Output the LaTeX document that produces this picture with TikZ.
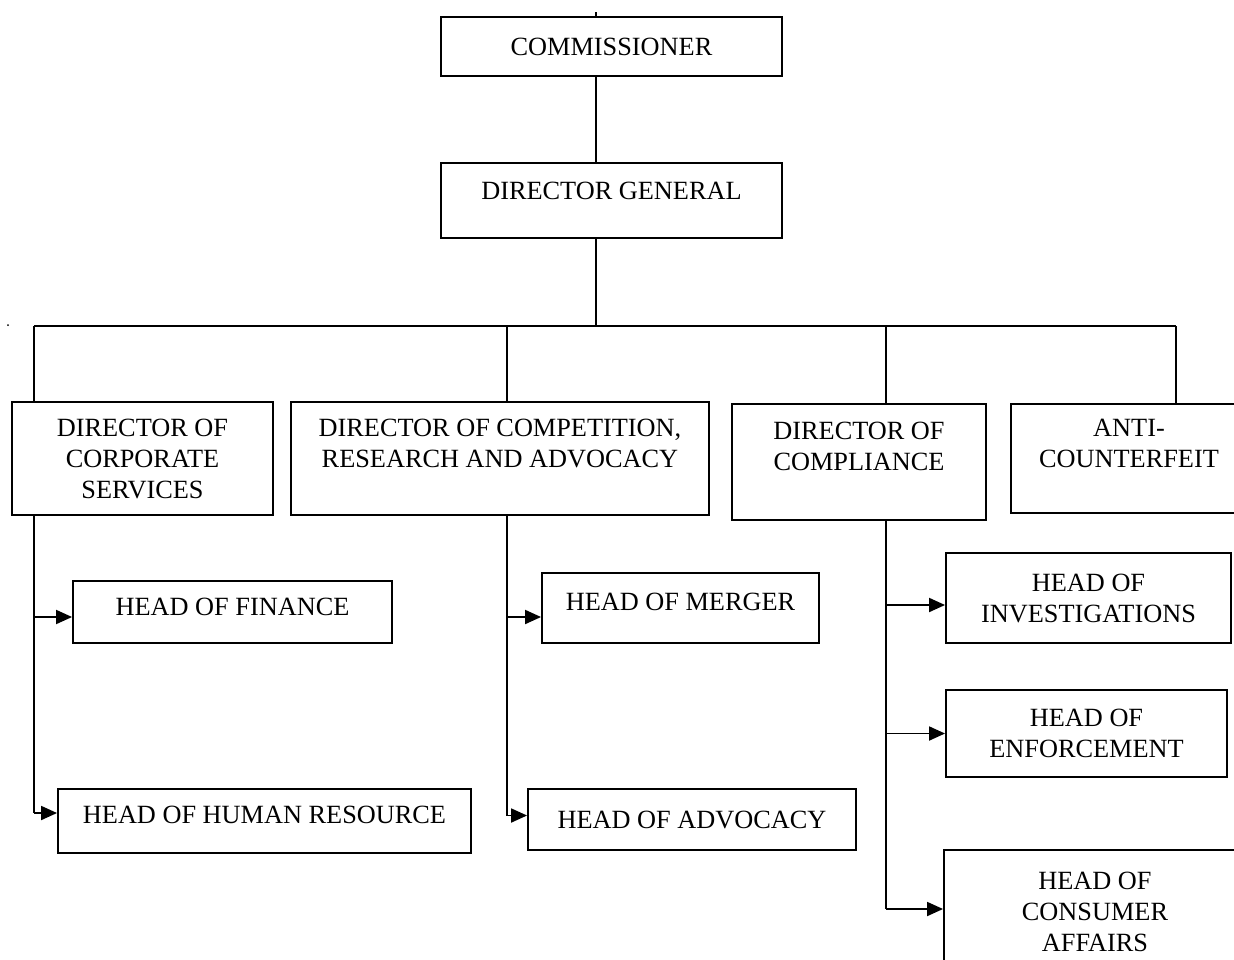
\documentclass[tikz,border=0pt]{standalone}
\usepackage{fontspec}
\setmainfont{Liberation Serif}
\usetikzlibrary{arrows.meta}

\begin{document}
\begin{tikzpicture}[
			x=1pt,y=-1pt,
			orgbox/.style={
				draw=black,
				line width=1.9pt,
				fill=white,
				align=center,
				inner sep=2pt,
				font=\fontsize{26.3pt}{31pt}\selectfont
			},
			orgline/.style={
				draw=black,
				line width=1.9pt
			},
			orgarrow/.style={
				-{Triangle[length=16pt,width=14pt]},
				draw=black,
				line width=1.9pt
			}
			]
			
			\path[fill=white,use as bounding box] (0,0) rectangle (1234,959);
			\clip (0,0) rectangle (1234,959);
			
			\node[orgbox,minimum width=341pt,minimum height=59pt] (comm) at (611.5,46.5) {COMMISSIONER};
			
			\node[orgbox,minimum width=341pt,minimum height=75pt] (dg) at (611.5,200.5) {DIRECTOR GENERAL\\[-12pt]\mbox{}};
			
			\node[orgbox,minimum width=261pt,minimum height=113pt] (corp) at (142.5,458.5) {DIRECTOR OF\\CORPORATE\\SERVICES};
			
			\node[orgbox,minimum width=418pt,minimum height=113pt] (comp) at (500,458.5) {DIRECTOR OF COMPETITION,\\RESEARCH AND ADVOCACY\\\mbox{}};
			
			\node[orgbox,minimum width=254pt,minimum height=116pt] (compl) at (859,462) {DIRECTOR OF\\COMPLIANCE\\\mbox{}};
			
			\node[orgbox,minimum width=236pt,minimum height=109pt] (anti) at (1129,458.5) {ANTI-\\COUNTERFEIT\\\mbox{}};
			
			\node[orgbox,minimum width=319pt,minimum height=62pt] (fin) at (232.5,612) {HEAD OF FINANCE\\[-21pt]\mbox{}};
			
			\node[orgbox,minimum width=413pt,minimum height=64pt] (hr) at (264.5,821) {HEAD OF HUMAN RESOURCE\\[-19pt]\mbox{}};
			
			\node[orgbox,minimum width=277pt,minimum height=70pt] (merger) at (680.5,608) {HEAD OF MERGER\\[-19pt]\mbox{}};
			
			\node[orgbox,minimum width=328pt,minimum height=61pt] (adv) at (692,819.5) {HEAD OF ADVOCACY};
			
			\node[orgbox,minimum width=285pt,minimum height=90pt] (inv) at (1088.5,598) {HEAD OF\\INVESTIGATIONS};
			
			\node[orgbox,minimum width=281pt,minimum height=87pt] (enf) at (1086.5,733.5) {HEAD OF\\ENFORCEMENT};
			
			\node[orgbox,minimum width=302pt,minimum height=124pt] (cons) at (1095,912) {HEAD OF\\CONSUMER\\AFFAIRS};
			
			\coordinate (trunk) at (596,326);
			\coordinate (tapA) at (34,326);
			\coordinate (tapB) at (507,326);
			\coordinate (tapC) at (886,326);
			\coordinate (tapD) at (1176,326);
			
			\coordinate (finIn) at ([yshift=-5pt]fin.west);
			\coordinate (hrIn) at ([yshift=8pt]hr.west);
			\coordinate (mergerIn) at ([yshift=-9pt]merger.west);
			\coordinate (advIn) at ([yshift=4pt]adv.west);
			\coordinate (invIn) at ([yshift=-7pt]inv.west);
			\coordinate (consIn) at ([yshift=3pt]cons.west);
			
			\draw[orgline] (trunk |- comm.north) -- ++(0,-4);
			\draw[orgline] (trunk |- comm.south) -- (trunk |- dg.north);
			\draw[orgline] (trunk |- dg.south) -- (trunk);
			\draw[orgline] (tapA) -- (tapD);
			\draw[orgline] (tapA) -- (tapA |- corp.north);
			\draw[orgline] (tapB) -- (tapB |- comp.north);
			\draw[orgline] (tapC) -- (tapC |- compl.north);
			\draw[orgline] (tapD) -- (tapD |- anti.north);
			\fill (8,325) circle (1pt);
			
			\draw[orgline] (tapA |- corp.south) -- (tapA |- hrIn);
			\draw[orgarrow] (tapA |- finIn) -- (finIn);
			\draw[orgarrow] (tapA |- hrIn) -- (hrIn);
			
			\draw[orgline] (tapB |- comp.south) -- (tapB |- advIn);
			\draw[orgarrow] (tapB |- mergerIn) -- (mergerIn);
			\draw[orgarrow] (tapB |- advIn) -- (advIn);
			
			\draw[orgline] (tapC |- compl.south) -- (tapC |- consIn);
			\draw[orgarrow] (tapC |- invIn) -- (invIn);
			\draw[orgarrow] (tapC |- enf.west) -- (enf.west);
			\draw[orgarrow] (tapC |- consIn) -- (consIn);
			
		\end{tikzpicture}
\end{document}
